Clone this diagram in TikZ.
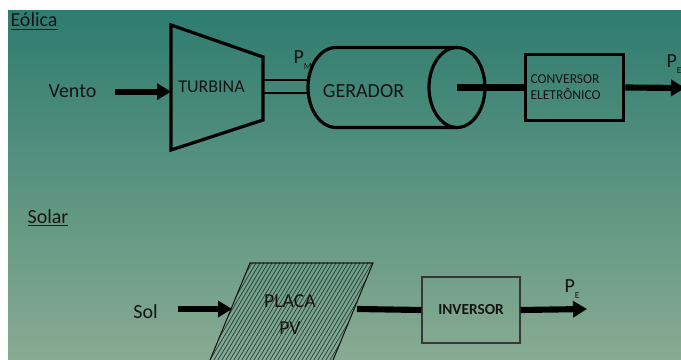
\documentclass[tikz,border=0pt]{standalone}
\usepackage{fontspec}
\setmainfont{Carlito}
\usetikzlibrary{arrows.meta,positioning}
\definecolor{bgtop}{HTML}{2E7C70}
\definecolor{bgbot}{HTML}{88AB92}
\definecolor{inkdark}{HTML}{141414}
\definecolor{hatchink}{HTML}{22403A}
\newcommand{\sublbl}[2]{#1\raisebox{-4.5pt}{\fontsize{7}{8}\selectfont #2}}

\begin{document}
\begin{tikzpicture}[
  x=0.75pt, y=-0.75pt,
  font=\fontsize{15}{18}\selectfont,
  lbl/.style={text=inkdark, inner sep=1pt},
  heading/.style={lbl, anchor=base west},
  blockline/.style={line width=2.4pt, black, line join=miter},
  shaftline/.style={line width=2pt, black},
  power/.style={line width=4.6pt, black},
  powerarrow/.style={power, -{Triangle[length=10.5pt, width=12pt]}},
  hatch/.style={hatchink, line width=0.55pt},
  pvedge/.style={inkdark, line width=0.8pt},
  convbox/.style={draw=black, line width=2.2pt, minimum height=50pt, text width=66pt,
                  align=left, inner xsep=4pt, inner ysep=2pt, text=inkdark,
                  font=\fontsize{10.2}{12}\selectfont},
  invbox/.style={draw=inkdark!85, line width=0.8pt, minimum width=73.5pt, minimum height=49.5pt,
                 text=inkdark, font=\fontsize{11.5}{13}\selectfont\bfseries},
]

% background
\useasboundingbox (0,0) rectangle (681,360);
\clip (0,0) rectangle (681,360);
\fill[white] (0,0) rectangle (681,360);
\shade[top color=bgtop, bottom color=bgbot] (8,11) rectangle (681,360);

% =========================== TOP: eolica ===========================
\node[heading] (eolica) at (9,27) {\underline{Eólica}};

% turbine
\coordinate (tb-lt) at (171,25);
\coordinate (tb-lb) at (171,150);
\coordinate (tb-rt) at (263,57);
\coordinate (tb-rb) at (263,120);
\draw[blockline] (tb-lt) -- (tb-rt) -- (tb-rb) -- (tb-lb) -- cycle;
\node[lbl, anchor=base, font=\fontsize{13.5}{16}\selectfont] (turbina) at (211.5,93) {TURBINA};

% wind in
\node[lbl, anchor=base] (vento) at (72.5,98) {Vento};
\draw[powerarrow] ([xshift=13pt]vento.east) -- (vento.east -| tb-lt);

% shaft
\coordinate (shaft-a) at (263,80);
\coordinate (shaft-b) at (263,93);
\draw[shaftline] (shaft-a) -- ++(46,0);
\draw[shaftline] (shaft-b) -- ++(46,0);
\node[heading] (pm) at (292,64) {\sublbl{P}{M}};

% generator (cylinder)
\coordinate (gen-c) at (336,87.5);
\coordinate (gen-r) at (457,87.5);
\draw[blockline] ([yshift=30pt]gen-r) -- ([yshift=30pt]gen-c)
  arc[start angle=90, end angle=270, x radius=21pt, y radius=30pt] -- ([yshift=-30pt]gen-r);
\draw[blockline] (gen-r) ellipse[x radius=21pt, y radius=30pt];
\node[lbl, anchor=base] (gerador) at (363.5,97) {GERADOR};

% converter + output
\node[convbox] (conv) at (574.5,87.5) {CONVERSOR\\ELETRÔNICO};
\draw[power] (gen-r) -- (conv.west);
\coordinate (pe-tip) at (685,88);
\draw[powerarrow] (conv.east) -- (pe-tip);
\node[heading] (pe) at (665,68) {\sublbl{P}{E}};

% =========================== BOTTOM: solar ===========================
\node[heading] (solar) at (26,223) {\underline{Solar}};

% pv panel, hatched
\coordinate (pv-tl) at (250,263);
\coordinate (pv-tr) at (373,263);
\coordinate (pv-br) at (324,382);
\coordinate (pv-bl) at (201,382);
\begin{scope}
  \clip (pv-tl) -- (pv-tr) -- (pv-br) -- (pv-bl) -- cycle;
  \foreach \k in {0,...,58}{ \draw[hatch] (116+\k*4, 390) -- ++(100,-167); }
\end{scope}
\draw[pvedge] (pv-bl) -- (pv-tl) -- (pv-tr) -- (pv-br);
\node[lbl, align=center, font=\fontsize{14.8}{20}\selectfont] (placa) at (290,314.5) {PLACA\\PV};

% sun in
\node[lbl, anchor=base] (sol) at (145.5,318) {Sol};
\coordinate (pv-in) at (232,309);
\draw[powerarrow] ([xshift=14pt]sol.east |- pv-in) -- (pv-in);

% inverter + output
\node[invbox] (inv) at (471,310) {INVERSOR};
\coordinate (pv-out) at (357,309);
\draw[power] (pv-out) -- (inv.west);
\coordinate (pe2-tip) at (587,309);
\draw[powerarrow] (inv.east) -- (pe2-tip);
\node[heading] (pe2) at (563,292) {\sublbl{P}{E}};

\end{tikzpicture}
\end{document}
